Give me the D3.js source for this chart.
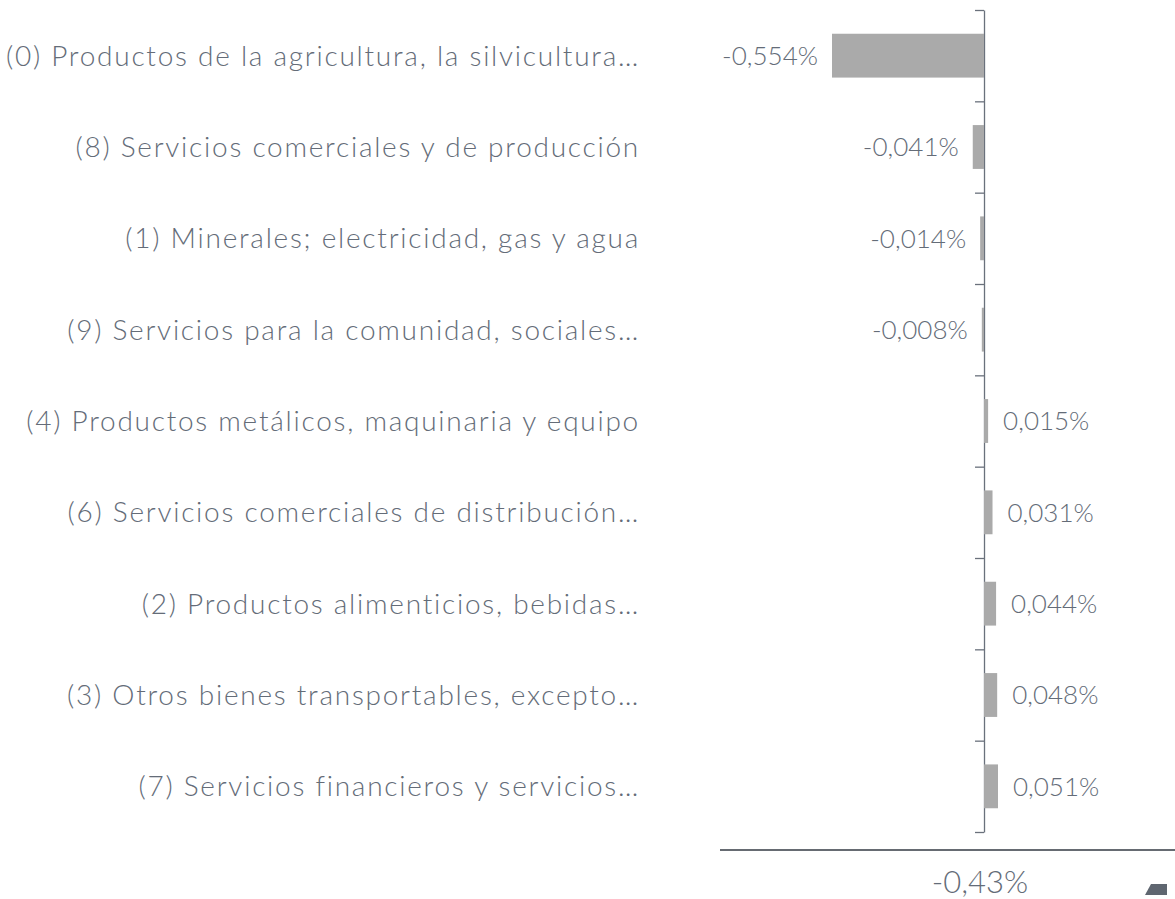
<!DOCTYPE html>
<html>
<head>
<meta charset="utf-8">
<script src="https://cdn.jsdelivr.net/npm/d3@7"></script>
<style>
  body { margin: 0; background: #fff; }
  text { font-family: Lato, "Open Sans", sans-serif; font-weight: 300; fill: #646c78; }
</style>
</head>
<body>
<div id="chart"></div>
<script>
// categorias y valores (% de variación)
var categorias = [
  "(0) Productos de la agricultura, la silvicultura…",
  "(8) Servicios comerciales y de producción",
  "(1) Minerales; electricidad, gas y agua",
  "(9) Servicios para la comunidad, sociales…",
  "(4) Productos metálicos, maquinaria y equipo",
  "(6) Servicios comerciales de distribución…",
  "(2) Productos alimenticios, bebidas…",
  "(3) Otros bienes transportables, excepto…",
  "(7) Servicios financieros y servicios…"
];
var valores = [-0.554, -0.041, -0.014, -0.008, 0.015, 0.031, 0.044, 0.048, 0.051];
var total = -0.43;

var width = 1175, height = 899;

function fmt(v, dec) {
  return v.toFixed(dec).replace(".", ",") + "%";
}

var svg = d3.select("#chart")
  .append("svg")
    .attr("width", width)
    .attr("height", height);

// escalas
var x = d3.scaleLinear()
  .domain([d3.min(valores), d3.max(valores)])
  .range([832, 998]);

var y = d3.scaleBand()
  .domain(categorias)
  .range([10, 832])
  .paddingInner(0.52)
  .paddingOuter(0.26);

// eje vertical con marcas entre categorias
var yTicks = d3.scaleLinear()
  .domain([0, categorias.length])
  .range([10, 832]);

var eje = svg.append("g")
  .attr("transform", "translate(" + x(0) + ",0)")
  .call(d3.axisLeft(yTicks)
    .tickValues(d3.range(0, categorias.length + 1))
    .tickFormat("")
    .tickSize(9)
    .tickSizeOuter(0));
eje.select(".domain").attr("stroke", "#6a717c").attr("stroke-width", 1.3);
eje.selectAll(".tick line").attr("stroke", "#6a717c").attr("stroke-width", 1.3);

// barras
svg.selectAll("rect.barra")
  .data(valores)
  .enter()
  .append("rect")
    .attr("class", "barra")
    .attr("x", function(d) { return x(Math.min(0, d)); })
    .attr("y", function(d, i) { return y(categorias[i]); })
    .attr("width", function(d) { return Math.abs(x(d) - x(0)); })
    .attr("height", y.bandwidth())
    .attr("fill", "#aaaaaa");

// etiquetas de valor
svg.selectAll("text.valor")
  .data(valores)
  .enter()
  .append("text")
    .attr("class", "valor")
    .attr("x", function(d) { return d < 0 ? x(d) - 14 : x(d) + 15; })
    .attr("y", function(d, i) { return y(categorias[i]) + y.bandwidth() / 2; })
    .attr("dy", "0.36em")
    .attr("text-anchor", function(d) { return d < 0 ? "end" : "start"; })
    .style("font-size", "26px")
    .text(function(d) { return fmt(d, 3); });

// nombres de categorias
svg.selectAll("text.cat")
  .data(categorias)
  .enter()
  .append("text")
    .attr("class", "cat")
    .attr("x", 640)
    .attr("y", function(d) { return y(d) + y.bandwidth() / 2; })
    .attr("dy", "0.36em")
    .attr("text-anchor", "end")
    .style("font-size", "28px")
    .style("letter-spacing", "1.75px")
    .text(function(d) { return d; });

// linea de total
svg.append("line")
  .attr("x1", 720).attr("x2", width)
  .attr("y1", 850).attr("y2", 850)
  .attr("stroke", "#666b72")
  .attr("stroke-width", 2);

svg.append("text")
  .attr("x", 980)
  .attr("y", 893)
  .attr("text-anchor", "middle")
  .style("font-size", "31px")
  .text(fmt(total, 2));

// icono de esquina
svg.append("path")
  .attr("d", "M1145,895 L1151,884 L1167,884 L1167,895 Z")
  .attr("fill", "#5f6670");
</script>
</body>
</html>
